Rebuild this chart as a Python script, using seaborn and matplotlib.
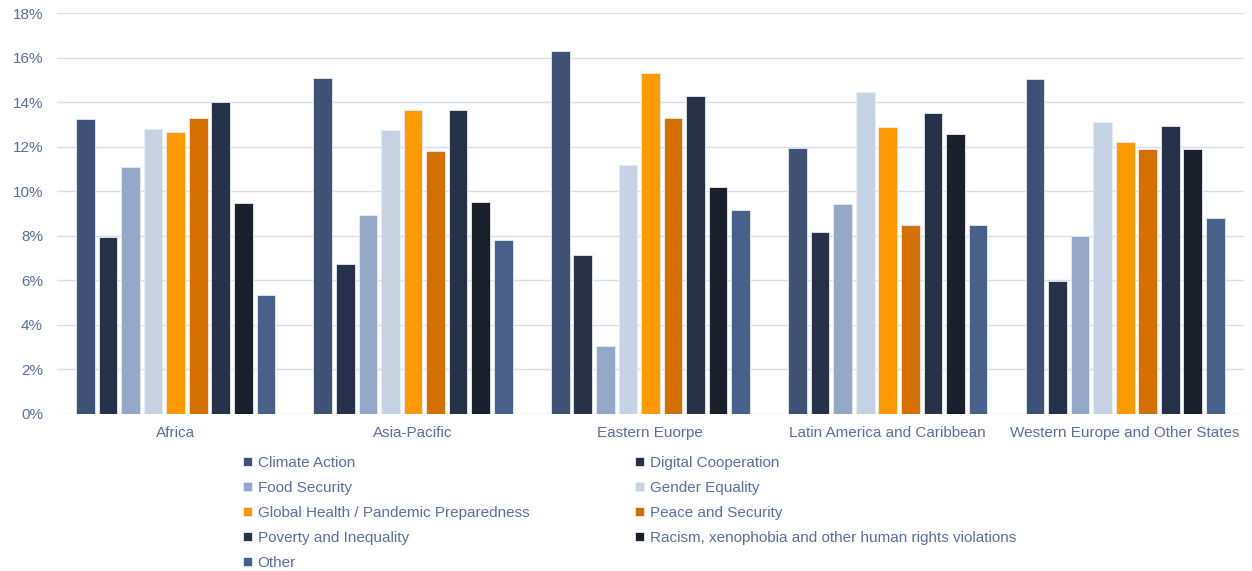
import matplotlib
matplotlib.use("Agg")
import matplotlib.pyplot as plt
import seaborn as sns
import pandas as pd

regions = ["Africa", "Asia-Pacific", "Eastern Euorpe", "Latin America and Caribbean",
           "Western Europe and Other States"]
topics = ["Climate Action", "Digital Cooperation", "Food Security", "Gender Equality",
          "Global Health / Pandemic Preparedness", "Peace and Security",
          "Poverty and Inequality", "Racism, xenophobia and other human rights violations",
          "Other"]

climate_action = [13.25, 15.07, 16.31, 11.93, 15.03]
digital_cooperation = [7.95, 6.74, 7.13, 8.16, 5.99]
food_security = [11.10, 8.92, 3.04, 9.43, 8.00]
gender_equality = [12.80, 12.77, 11.20, 14.47, 13.13]
global_health = [12.67, 13.63, 15.32, 12.88, 12.20]
peace_security = [13.30, 11.80, 13.27, 8.48, 11.89]
poverty_inequality = [13.99, 13.63, 14.27, 13.51, 12.91]
racism_xenophobia = [9.49, 9.51, 10.18, 12.56, 11.90]
other = [5.35, 7.82, 9.16, 8.48, 8.79]

yticks = [0, 2, 4, 6, 8, 10, 12, 14, 16, 18]

colors = ["#3E5277", "#263249", "#93A8C8", "#C6D3E5", "#FF9900", "#D46F00",
          "#263249", "#1A1F2C", "#46618A"]

series = [climate_action, digital_cooperation, food_security, gender_equality,
          global_health, peace_security, poverty_inequality, racism_xenophobia, other]
rows = []
for t, vals in zip(topics, series):
    for r, v in zip(regions, vals):
        rows.append({"region": r, "topic": t, "value": v})
df = pd.DataFrame(rows)

sns.set_theme(style="white")
plt.rcParams["font.family"] = ["Liberation Sans", "DejaVu Sans"]
text_color = "#5A6E9C"

fig = plt.figure(figsize=(12.52, 5.71), dpi=100)
ax = fig.add_axes([0.0455, 0.275, 0.948, 0.702])

sns.barplot(data=df, x="region", y="value", hue="topic", order=regions, hue_order=topics,
            palette=colors, saturation=1, width=0.855, gap=0.17, edgecolor="#E8ECF4",
            linewidth=0.6, ax=ax, legend=True, zorder=3)

ax.set_xlim(-0.5, 4.5)
ax.set_ylim(0, 18)
ax.set_yticks(yticks)
ax.set_yticklabels([f"{v}%" for v in yticks])
ax.yaxis.grid(True, color="#DADFEE", linewidth=1.0, zorder=0)
ax.set_axisbelow(True)
for s in ax.spines.values():
    s.set_visible(False)
ax.tick_params(axis="both", length=0, labelsize=11, colors=text_color)
ax.tick_params(axis="y", pad=10)
ax.tick_params(axis="x", pad=9)
ax.set_xlabel("")
ax.set_ylabel("")

handles, labels = ax.get_legend_handles_labels()
ax.get_legend().remove()

left_idx = [0, 2, 4, 6, 8]
right_idx = [1, 3, 5, 7]
common = dict(frameon=False, fontsize=11, handlelength=0.6, handleheight=0.6,
              handletextpad=0.35, labelspacing=0.72, borderpad=0, borderaxespad=0,
              labelcolor=text_color)
leg1 = fig.legend([handles[i] for i in left_idx], [labels[i] for i in left_idx],
                  loc="upper left", bbox_to_anchor=(243 / 1252, 1 - 456 / 571), **common)
leg2 = fig.legend([handles[i] for i in right_idx], [labels[i] for i in right_idx],
                  loc="upper left", bbox_to_anchor=(635 / 1252, 1 - 456 / 571), **common)

fig.savefig("out.png", dpi=100)
